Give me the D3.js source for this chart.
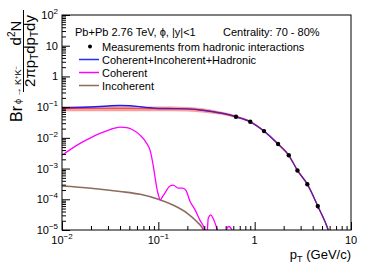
<!DOCTYPE html>
<html>
<head>
<meta charset="utf-8">
<script src="https://cdn.jsdelivr.net/npm/d3@7"></script>
<style>
  body { margin: 0; background: #fff; }
  svg { font-family: "Liberation Sans", Arial, Helvetica, sans-serif; }
</style>
</head>
<body>
<div id="chart"></div>
<script>
// measurements (hadronic interactions)
const measPt = [0.64, 0.9, 1.25, 1.75, 2.26, 2.78, 3.52, 4.52]
const meas = [0.0487, 0.0334, 0.0166, 0.0063, 0.0027, 0.00087, 0.00031, 0.00006]
const measErr = [0.005, 0.0035, 0.0018, 0.0007, 0.0003, 0.0001, 0.00004, 0.00001]

// hadronic curve + band
const hadPt = [0.01, 0.02, 0.05, 0.1, 0.2, 0.3, 0.37, 0.5, 0.64, 0.9, 1.25, 1.75, 2.26, 2.78, 3.52, 4.52, 5.8, 6.5]
const had = [0.091, 0.091, 0.0905, 0.09, 0.0875, 0.078, 0.0708, 0.0596, 0.0487, 0.0334, 0.0166, 0.0063, 0.0027, 0.00087, 0.00031, 0.00006, 0.00001, 0.000003]
const hadLow = [0.074, 0.074, 0.074, 0.0735, 0.072, 0.066, 0.061, 0.053, 0.044, 0.031, 0.0155, 0.0059, 0.0025, 0.00081, 0.00029, 0.000055, 0.0000092, 0.0000027]
const hadHigh = [0.106, 0.106, 0.1055, 0.105, 0.102, 0.091, 0.081, 0.067, 0.054, 0.036, 0.0178, 0.0067, 0.0029, 0.00093, 0.00033, 0.000065, 0.0000109, 0.0000033]

// coherent + incoherent + hadronic
const totalPt = [0.01, 0.015, 0.02, 0.03, 0.04, 0.05, 0.06, 0.07, 0.08, 0.1, 0.15, 0.2, 0.3, 0.37, 0.5, 0.64, 0.9, 1.25, 1.75, 2.26, 2.78, 3.52, 4.52, 5.8, 6.5]
const total = [0.094, 0.0975, 0.101, 0.109, 0.1135, 0.111, 0.106, 0.1005, 0.0955, 0.0905, 0.0895, 0.0876, 0.078, 0.0708, 0.0596, 0.0487, 0.0334, 0.0166, 0.0063, 0.0027, 0.00087, 0.00031, 0.00006, 0.00001, 0.000003]

const cohPt = [0.01, 0.0154, 0.02, 0.0248, 0.032, 0.04, 0.047, 0.0546, 0.0646, 0.0758, 0.082, 0.0887, 0.0923, 0.096, 0.1, 0.105, 0.11, 0.117, 0.132, 0.143, 0.161, 0.179, 0.194, 0.213, 0.24, 0.27, 0.304, 0.316, 0.33, 0.35, 0.37, 0.41, 0.46, 0.52, 0.54, 0.58, 0.62]
const coh = [0.0027, 0.0066, 0.0102, 0.014, 0.019, 0.0225, 0.0215, 0.018, 0.0123, 0.0066, 0.004, 0.0012, 0.00054, 0.00025, 0.00014, 0.000095, 0.00012, 0.00016, 0.00027, 0.00029, 0.00023, 0.00023, 0.00019, 0.000087, 0.000046, 0.000021, 0.00001, 0.000004, 0.000024, 0.000031, 0.000024, 0.00001, 0.000003, 0.000012, 0.000013, 0.00001, 0.000003]

const incPt = [0.01, 0.02, 0.04, 0.065, 0.1, 0.14, 0.2, 0.25, 0.29, 0.32, 0.36]
const inc = [0.00027, 0.00023, 0.00018, 0.000145, 0.0001, 0.000066, 0.000035, 0.000019, 0.000011, 0.000005, 0.000002]

const xMajor = [0.01, 0.1, 1, 10]
const yMajor = [1e-5, 1e-4, 1e-3, 1e-2, 1e-1, 1, 10, 100]

const legendItems = [
  { label: "Measurements from hadronic interactions", type: "dot" },
  { label: "Coherent+Incoherent+Hadronic", type: "line", color: "#2a2aff" },
  { label: "Coherent", type: "line", color: "#ff00ff" },
  { label: "Incoherent", type: "line", color: "#8c6c5c" }
]

const dimensions = {
  width: 374,
  height: 268,
  margin: { top: 15, right: 23, bottom: 38, left: 62 },
  ctrWidth: 0,
  ctrHeight: 0
}
dimensions.ctrWidth = dimensions.width - dimensions.margin.left - dimensions.margin.right
dimensions.ctrHeight = dimensions.height - dimensions.margin.top - dimensions.margin.bottom

const svg = d3.select("#chart")
  .append("svg")
  .attr("width", dimensions.width)
  .attr("height", dimensions.height)

const ctr = svg.append("g")
  .attr("transform", `translate(${dimensions.margin.left}, ${dimensions.margin.top})`)

const xScale = d3.scaleLog().domain([0.01, 10]).range([0, dimensions.ctrWidth])
const yScale = d3.scaleLog().domain([1e-5, 100]).range([dimensions.ctrHeight, 0])

ctr.append("clipPath").attr("id", "clip")
  .append("rect").attr("width", dimensions.ctrWidth).attr("height", dimensions.ctrHeight)

const plot = ctr.append("g").attr("clip-path", "url(#clip)")

const zip = (xs, ys) => xs.map((x, i) => [x, ys[i]])
const line = d3.line()
  .x(d => xScale(d[0]))
  .y(d => yScale(d[1]))
  .curve(d3.curveMonotoneX)

// hadronic band
const band = d3.area()
  .x(d => xScale(d.x))
  .y0(d => yScale(d.lo))
  .y1(d => yScale(d.hi))
  .curve(d3.curveMonotoneX)
plot.append("path")
  .datum(hadPt.map((x, i) => ({ x, lo: hadLow[i], hi: hadHigh[i] })))
  .attr("d", band)
  .attr("fill", "#f6a0a0")

plot.append("path").datum(zip(incPt, inc)).attr("d", line)
  .attr("fill", "none").attr("stroke", "#8c6c5c").attr("stroke-width", 1.6)

plot.append("path").datum(zip(cohPt, coh)).attr("d", line)
  .attr("fill", "none").attr("stroke", "#ff00ff").attr("stroke-width", 1.3)

plot.append("path").datum(zip(totalPt, total)).attr("d", line)
  .attr("fill", "none").attr("stroke", "#1a1aff").attr("stroke-width", 1.4)

plot.append("path").datum(zip(hadPt, had)).attr("d", line)
  .attr("fill", "none").attr("stroke", "#e01010").attr("stroke-width", 1.2)
  .attr("stroke-opacity", 0.55)

// measurements
const pts = measPt.map((x, i) => ({ x, y: meas[i], e: measErr[i] }))
plot.selectAll(".err").data(pts).join("line")
  .attr("x1", d => xScale(d.x)).attr("x2", d => xScale(d.x))
  .attr("y1", d => yScale(d.y - d.e)).attr("y2", d => yScale(d.y + d.e))
  .attr("stroke", "#000").attr("stroke-width", 1.4)
plot.selectAll("circle").data(pts).join("circle")
  .attr("cx", d => xScale(d.x)).attr("cy", d => yScale(d.y))
  .attr("r", 2.2).attr("fill", "#000")

// axes
const minorTicks = scale => {
  const [a, b] = scale.domain()
  const out = []
  for (let p = Math.floor(Math.log10(a)); p < Math.ceil(Math.log10(b)); p++) {
    for (let k = 2; k <= 9; k++) {
      const v = k * Math.pow(10, p)
      if (v > a && v < b) out.push(v)
    }
  }
  return out
}

const xAxis = ctr.append("g").attr("transform", `translate(0, ${dimensions.ctrHeight})`)
xAxis.append("g").call(d3.axisBottom(xScale).tickValues(minorTicks(xScale)).tickSize(-4).tickFormat(""))
xAxis.append("g").call(d3.axisBottom(xScale).tickValues(xMajor).tickSize(-8).tickFormat(""))

const yAxis = ctr.append("g")
yAxis.append("g").call(d3.axisLeft(yScale).tickValues(minorTicks(yScale)).tickSize(-4).tickFormat(""))
yAxis.append("g").call(d3.axisLeft(yScale).tickValues(yMajor).tickSize(-8).tickFormat(""))

ctr.selectAll(".domain").remove()
ctr.selectAll(".tick line").attr("stroke", "#000")

ctr.append("rect")
  .attr("width", dimensions.ctrWidth).attr("height", dimensions.ctrHeight)
  .attr("fill", "none").attr("stroke", "#000")

// tick labels as 10^n
const powLabel = (sel, v) => {
  const p = Math.round(Math.log10(v))
  if (p === 0) { sel.text("1"); return }
  if (p === 1) { sel.text("10"); return }
  sel.append("tspan").text("10")
  sel.append("tspan").attr("font-size", 8).attr("dy", -5).text(p < 0 ? "\u2212" + (-p) : p)
}

ctr.selectAll(".ylab").data(yMajor).join("text")
  .attr("x", -4).attr("y", d => yScale(d) + 4)
  .attr("text-anchor", "end").attr("font-size", 11)
  .each(function (d) { powLabel(d3.select(this), d) })

ctr.selectAll(".xlab").data(xMajor).join("text")
  .attr("x", d => xScale(d)).attr("y", dimensions.ctrHeight + 14)
  .attr("text-anchor", "middle").attr("font-size", 11)
  .each(function (d) { powLabel(d3.select(this), d) })

// x title
const xt = svg.append("text").attr("x", 351).attr("y", 259).attr("text-anchor", "end").attr("font-size", 13)
xt.append("tspan").text("p")
xt.append("tspan").attr("font-size", 9).attr("dy", 3).text("T")
xt.append("tspan").attr("dy", -3).text(" (GeV/c)")

// y title
svg.append("text").attr("transform", "translate(22, 122) rotate(-90)").attr("font-size", 16).text("Br")
const ys = svg.append("text").attr("transform", "translate(21, 104) rotate(-90)").attr("font-size", 9)
ys.append("tspan").text("\u03d5 \u2192 K")
ys.append("tspan").attr("dy", -3).attr("font-size", 6).text("+")
ys.append("tspan").attr("dy", 3).text("K")
ys.append("tspan").attr("dy", -3).attr("font-size", 6).text("\u2212")

const num = svg.append("text").attr("transform", "translate(21, 33) rotate(-90)").attr("font-size", 15).attr("text-anchor", "middle")
num.append("tspan").text("d")
num.append("tspan").attr("font-size", 10).attr("dy", -6).text("2")
num.append("tspan").attr("dy", 6).text("N")
svg.append("line").attr("x1", 23.5).attr("x2", 23.5).attr("y1", 10).attr("y2", 92).attr("stroke", "#000")
const den = svg.append("text").attr("transform", "translate(35, 51) rotate(-90)").attr("font-size", 15).attr("text-anchor", "middle")
den.append("tspan").text("2\u03c0p")
den.append("tspan").attr("font-size", 10).attr("dy", 3).text("T")
den.append("tspan").attr("dy", -3).text("dp")
den.append("tspan").attr("font-size", 10).attr("dy", 3).text("T")
den.append("tspan").attr("dy", -3).text("dy")

// header + legend
svg.append("text").attr("x", 75).attr("y", 36).attr("font-size", 11).text("Pb+Pb 2.76 TeV, \u03d5, |y|<1")
svg.append("text").attr("x", 223).attr("y", 36).attr("font-size", 11).text("Centrality: 70 - 80%")

const leg = svg.append("g")
legendItems.forEach((it, i) => {
  const yc = 46.5 + i * 13
  if (it.type === "dot") {
    leg.append("circle").attr("cx", 90).attr("cy", yc).attr("r", 2).attr("fill", "#000")
  } else {
    leg.append("line").attr("x1", 79).attr("x2", 99).attr("y1", yc).attr("y2", yc)
      .attr("stroke", it.color).attr("stroke-width", 1.5)
  }
  leg.append("text").attr("x", 102).attr("y", yc + 4).attr("font-size", 11).text(it.label)
})
</script>
</body>
</html>
